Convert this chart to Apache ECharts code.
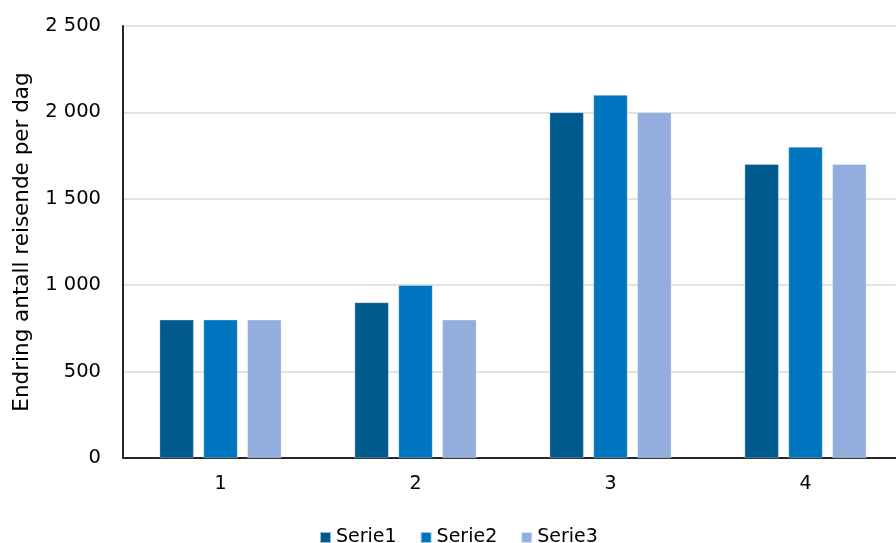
<!DOCTYPE html>
<html><head><meta charset="utf-8">
<script src="https://cdn.jsdelivr.net/npm/echarts@6/dist/echarts.min.js"></script>
<style>html,body{margin:0;padding:0;background:#fff}#c{width:896px;height:543px}</style>
</head><body><div id="c"></div>
<script>
const categories = ['1', '2', '3', '4'];
const serie1 = [800, 900, 2000, 1700];
const serie2 = [800, 1000, 2100, 1800];
const serie3 = [800, 800, 2000, 1700];
const seriesNames = ['Serie1', 'Serie2', 'Serie3'];
const yTicks = { min: 0, max: 2500, interval: 500 };

const font = 'DejaVu Sans';
const colors = ['#005A8E', '#0075BF', '#93AEDC'];
const chart = echarts.init(document.getElementById('c'));
const mk = (name, data, i) => ({
  name, type: 'bar', data, barWidth: 34, barGap: '29%',
  itemStyle: { color: colors[i], borderColor: 'rgba(255,255,255,0.6)', borderWidth: 0.5 }
});
chart.setOption({
  animation: false,
  textStyle: { fontFamily: font },
  grid: { left: 123, right: -7, top: 26, bottom: 85, containLabel: false, outerBoundsMode: 'none' },
  legend: {
    bottom: -9, left: 314, itemWidth: 11, itemHeight: 11, itemGap: 23,
    icon: 'rect', textStyle: { fontSize: 19, color: '#000', fontFamily: font }
  },
  xAxis: {
    type: 'category', data: categories,
    axisLine: { lineStyle: { color: '#262626', width: 2 } },
    axisTick: { show: false },
    axisLabel: { fontSize: 19, color: '#000', margin: 17, fontFamily: font }
  },
  yAxis: {
    type: 'value', min: yTicks.min, max: yTicks.max, interval: yTicks.interval,
    name: 'Endring antall reisende per dag', nameLocation: 'middle', nameGap: 90,
    nameTextStyle: { fontSize: 21.5, color: '#000', fontFamily: font },
    axisLine: { show: true, lineStyle: { color: '#262626', width: 2 } },
    axisTick: { show: false },
    splitLine: { lineStyle: { color: '#d9d9d9', width: 1.5 } },
    axisLabel: {
      fontSize: 19.5, color: '#000', margin: 22, fontFamily: font,
      formatter: v => String(v).replace(/\B(?=(\d{3})+(?!\d))/g, ' ')
    }
  },
  series: [mk(seriesNames[0], serie1, 0), mk(seriesNames[1], serie2, 1), mk(seriesNames[2], serie3, 2)]
});
</script></body></html>
